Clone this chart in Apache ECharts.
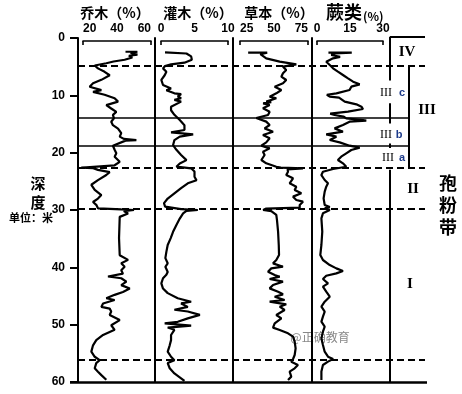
<!DOCTYPE html>
<html><head><meta charset="utf-8">
<script src="https://cdn.jsdelivr.net/npm/echarts@6/dist/echarts.min.js"></script>
<style>html,body{margin:0;padding:0;background:#fff}#c{width:462px;height:394px}</style>
</head><body><div id="c"></div>
<script>
// [depth (m), percent]
const tree = [[2.4,45],[2.4,52],[2.6,48],[2.9,52],[3.1,47],[3.4,49],[3.8,44.5],[4.1,38],[4.4,33.7],[4.8,26.9],
[5.3,28.8],[5.9,32.7],[6.5,35.7],[7.3,30.8],[7.9,25.9],[8.5,23.9],[9.1,30.8],[9.4,25.9],[9.9,32.7],[10.5,38.6],
[11.1,40.6],[11.7,33.7],[12.3,36.6],[12.9,39.6],[13.4,37.6],[14.0,38.2],[14.6,36.6],[15.2,37.6],[15.8,40.6],[16.6,42.5],
[17.2,41.6],[17.6,44],[17.8,51.4],[17.9,45],[18.2,44.5],[18.8,37.6],[19.5,38.6],[20.1,39.6],[20.7,38.6],[21.6,41.6],
[22.2,38.6],[22.55,22],[22.62,19],[22.7,26],[23.0,28.8],[23.4,35.7],[23.9,33.7],[24.8,28.8],[25.6,24.9],[26.5,26.9],
[27.4,30.8],[28.0,28.8],[28.6,25.9],[29.1,27.8],[29.7,28.8],[29.9,42.5],[30.0,50],[30.2,44],[30.6,46.5],[31.2,41.6],
[34.9,41.2],[37.9,41.6],[38.1,42.5],[38.7,46.5],[39.3,42.5],[39.9,44.5],[40.5,42.5],[41.1,43.5],[41.6,34.7],[41.9,42.5],
[42.5,45.5],[43.1,42.5],[43.7,47.5],[44.3,43.5],[44.8,38.6],[45.4,33.7],[45.7,38.6],[46.3,31.8],[46.9,30.8],[47.2,35.7],
[47.7,36.6],[48.3,35.7],[49.2,41.6],[50.1,36.6],[50.9,38.6],[51.8,31.8],[52.7,27.8],[53.6,25.9],[54.7,24.9],[55.6,26.9],
[56.2,29.8],[56.7,27.8],[57.6,26.9],[58.2,28.8],[58.8,30.8],[59.6,33.7]];
const shrub = [[2.5,0.6],[2.7,3.8],[3.2,4.5],[3.8,4.6],[4.3,3.5],[4.6,1.5],[4.9,0.6],[5.3,0.3],[5.9,0.8],[6.5,0.55],
[7.3,0.05],[8.2,0.3],[8.8,1.5],[9.1,0.8],[9.65,2.0],[9.8,3.0],[10.2,2.5],[10.5,3.0],[10.8,2.0],[11.1,3.0],
[11.4,2.8],[12.0,1.5],[12.6,1.5],[13.4,2.0],[14.3,2.8],[15.2,3.5],[16.05,3.5],[16.45,1.5],[16.8,4.8],[17.2,2.8],
[17.8,2.0],[18.7,1.8],[19.5,2.3],[20.4,3.0],[21.3,3.8],[21.9,2.8],[22.45,2.3],[22.73,4.5],[23.3,5.0],[24.2,5.0],
[24.8,5.3],[25.35,4.0],[26.2,3.0],[27.1,2.0],[28.0,1.0],[28.8,0.45],[29.4,0.6],[29.85,3.0],[30.0,5.5],[30.15,3.8],
[30.6,3.3],[31.5,2.8],[32.6,2.3],[33.8,1.8],[34.9,1.45],[36.1,1.0],[37.3,0.8],[38.4,0.65],[39.3,1.0],[39.9,0.65],
[40.8,1.0],[41.3,0.8],[41.9,0.3],[42.8,0.05],[43.7,0.3],[44.5,1.0],[45.4,2.5],[46.0,4.5],[46.3,3.0],[46.9,4.0],
[47.4,2.0],[47.7,4.0],[48.3,5.8],[48.9,4.0],[49.5,2.5],[49.77,0.55],[50.17,4.5],[50.5,1.0],[50.9,2.0],[51.8,1.5],
[52.7,1.5],[53.6,1.3],[54.7,1.0],[55.6,1.5],[56.2,2.0],[56.7,1.0],[57.6,1.3],[58.5,2.0],[59.35,3.0],[59.8,3.5]];
const herb = [[2.56,31],[2.56,45],[2.8,40],[3.0,39.5],[3.55,44.3],[4.13,54.2],[4.59,66.4],[5.0,56.6],[5.58,59.0],[6.16,56.6],
[6.74,55.4],[7.33,59.0],[7.91,56.6],[8.49,50.5],[9.07,55.4],[9.65,51.7],[10.23,46.8],[10.52,51.7],[11.1,44.3],[11.2,48],
[11.4,42],[11.68,46.8],[12.27,41.9],[12.85,46.8],[13.43,45.6],[13.95,37.0],[14.05,38],[14.59,44.3],[15.17,46.8],[15.76,43.1],
[16.34,49.3],[16.92,41.9],[17.5,46.8],[18.2,44.3],[18.78,40.7],[19.25,46.8],[19.83,41.9],[20.41,43.1],[21.28,40.7],[21.86,44.3],
[22.45,51.7],[22.6,55],[22.73,71.3],[22.9,60],[23.32,60.3],[23.9,59.0],[24.48,64.0],[25.35,61.5],[25.93,66.4],[26.51,65.2],
[27.09,70.1],[27.67,64.0],[28.26,66.4],[28.55,71.3],[29.13,68.9],[29.6,68.9],[29.75,44.3],[30.0,42],[30.2,48],[30.41,49.3],
[30.87,51.7],[31.75,52.2],[33.78,53.0],[36.1,53.5],[37.85,53.7],[38.72,51.7],[39.31,49.3],[39.89,56.6],[40.18,48.0],[40.76,45.6],
[41.34,50.5],[41.63,54.2],[42.04,46.8],[42.5,56.6],[43.08,49.3],[43.67,46.8],[44.25,53.0],[44.71,56.6],[45.12,50.5],[45.7,57.8],
[45.99,46.8],[46.45,59.0],[46.86,54.2],[47.44,57.8],[48.31,51.7],[48.89,55.4],[49.77,50.5],[50.52,49.3],[50.93,54.2],[51.51,60.3],
[52.09,64.0],[52.96,65.2],[54.13,65.9],[55.29,65.2],[55.99,64.0],[56.45,62.7],[57.03,67.6],[57.61,65.2],[58.19,61.5],[59.06,62.7],[59.64,60.3]];
const fern = [[2.56,5.2],[2.56,15.8],[2.7,8],[2.97,6.5],[3.3,10.5],[3.55,7.3],[4.13,4.2],[4.71,5.8],[5.29,7.3],[5.87,9.5],
[6.45,11.8],[7.04,14.1],[7.62,16.4],[8.08,19.4],[8.49,15.6],[9.07,14.8],[9.65,8.8],[9.9,4.5],[10.23,5.8],[10.4,10],
[10.63,10.3],[11.1,12.6],[11.57,17.9],[11.98,20.2],[12.39,20.9],[12.85,14.1],[13.2,6],[13.43,8.0],[13.7,12],[14.01,13.3],
[14.3,20.9],[14.4,22.4],[14.59,14.8],[15.17,11.8],[15.76,8.0],[16.34,11.8],[16.8,4.2],[17.21,8.8],[17.79,5.8],[18.2,10.3],
[18.78,14.8],[19.13,19.4],[19.54,15.6],[20.12,13.3],[20.7,11.0],[21.28,9.5],[21.86,11.8],[22.45,13.3],[22.85,7.3],[23.32,2.7],
[23.9,2.0],[24.77,3.5],[25.35,5.0],[25.93,4.2],[26.8,3.5],[27.97,3.0],[29.13,3.5],[29.5,5.8],[29.71,3.5],[30.0,5.8],
[30.58,2.7],[31.46,2.0],[33.78,2.4],[36.1,2.0],[37.85,1.5],[38.72,2.7],[39.6,5.8],[40.18,8.8],[40.64,11.8],[41.05,8.8],
[41.46,4.2],[42.04,2.7],[42.79,5.0],[43.37,2.7],[44.25,4.2],[45.12,5.8],[45.99,3.5],[46.86,2.0],[47.73,3.5],[48.6,2.7],
[49.48,2.0],[50.35,3.5],[51.22,2.7],[52.38,2.0],[53.55,2.7],[54.71,3.5],[55.58,5.0],[55.99,7.3],[56.45,5.0],[57.03,2.7],
[58.19,2.0],[59.64,2.0]];
// zone boundary depths (m): IV/IIIc, IIIc/IIIb, IIIb/IIIa, III/II, II/I, I lower subdivision
const zoneBounds = [4.8, 13.85, 18.8, 22.65, 29.7, 56.2];
const axisMin = [20, 0, 25, 0];
const axisMax = [60, 10, 75, 30];
const axisStep = [20, 5, 25, 15];
const seriesData = [tree, shrub, herb, fern];

const FONT = '"Liberation Sans","Noto Sans CJK SC",sans-serif';
const layout = [
  {left:83, width:68, yOff:5, edge:true},
  {left:161, width:67, yOff:6, edge:false},
  {left:240, width:68, yOff:7, edge:true},
  {left:317, width:66, yOff:5, edge:false}
];
const grids = layout.map(l => ({left:l.left, width:l.width, top:38, height:344, containLabel:false, outerBoundsMode:'none'}));
grids.push({left:0, width:462, top:38, height:344, containLabel:false, outerBoundsMode:'none'});

const xAxes = layout.map((l,i) => ({
  type:'value', gridIndex:i, position:'top', offset:-3,
  min:axisMin[i], max:axisMax[i], interval:axisStep[i],
  axisLine:{show:true, onZero:false, lineStyle:{color:'#000', width:1.6}},
  axisTick:{show:true, inside:true, length:4, customValues:[axisMin[i], axisMax[i]], lineStyle:{color:'#000', width:1.6}},
  axisLabel:{color:'#000', fontWeight:'bold', fontSize:12, fontFamily:FONT, margin:6,
    alignMinLabel: l.edge ? 'left' : 'center', alignMaxLabel: l.edge ? 'right' : 'center'},
  splitLine:{show:false}
}));
xAxes.push({type:'value', gridIndex:4, min:0, max:462, show:false});

const yAxes = layout.map((l,i) => ({
  type:'value', gridIndex:i, position:'left', offset:l.yOff, inverse:true,
  min:0, max:60, interval:10,
  axisLine:{show:true, onZero:false, lineStyle:{color:'#000', width:2}},
  axisTick:{show:i===0, length:8, lineStyle:{color:'#000', width:2}},
  axisLabel:{show:i===0, color:'#000', fontWeight:'bold', fontSize:12, fontFamily:FONT, margin:13},
  splitLine:{show:false}
}));
yAxes.push({type:'value', gridIndex:4, min:0, max:60, inverse:true, show:false});

const dashed = {color:'#000', width:2.2, type:[7,4], opacity:1};
const solid = {color:'#000', width:1.5, type:'solid', opacity:1};
const thick = {color:'#000', width:2, type:'solid', opacity:1};
const seg = (x1,d1,x2,d2,s) => ({coords:[[x1,d1],[x2,d2]], lineStyle:s});
const deco = [
  seg(78,zoneBounds[0],425,zoneBounds[0],dashed),
  seg(78,zoneBounds[1],409,zoneBounds[1],solid),
  seg(78,zoneBounds[2],409,zoneBounds[2],solid),
  seg(78,zoneBounds[3],425,zoneBounds[3],dashed),
  seg(78,zoneBounds[4],425,zoneBounds[4],dashed),
  seg(78,zoneBounds[5],425,zoneBounds[5],dashed),
  seg(70,60,427,60,{color:'#000', width:2.5, opacity:1}),
  seg(390,-0.2,425,-0.2,thick),
  seg(390,-0.2,390,7.4,thick),
  seg(390,11.4,390,14.9,thick),
  seg(390,18.4,390,19.2,thick),
  seg(390,23.0,390,60,thick),
  seg(409,zoneBounds[0],409,zoneBounds[3],thick)
];

const series = seriesData.map((d,i) => ({
  type:'line', xAxisIndex:i, yAxisIndex:i, data:d.map(p => [p[1], p[0]]),
  showSymbol:false, symbol:'none', clip:false, animation:false, silent:true,
  lineStyle:{color:'#000', width:2.2, opacity:1}
}));
series.push({type:'lines', coordinateSystem:'cartesian2d', xAxisIndex:4, yAxisIndex:4,
  clip:false, silent:true, animation:false, data:deco, lineStyle:{color:'#000', width:2, opacity:1}});

const txt = (text,x,y,font,align,fill) => ({type:'text', x, y, silent:true,
  style:{text, font, textAlign:align||'center', textVerticalAlign:'middle', verticalAlign:'middle', fill:fill||'#000'}});
const B14 = 'bold 14px "Noto Sans CJK SC",sans-serif';
const SERIF_B = (s) => 'bold ' + s + 'px "Liberation Serif","DejaVu Serif",serif';
const SERIF = (s) => s + 'px "Liberation Serif","DejaVu Serif",serif';
const SUB = 'bold 11px "Liberation Sans",sans-serif';
const subColor = '#1d3b8b';
const graphic = [
  txt('乔木（%）',115,13,B14),
  txt('灌木（%）',198,13,B14),
  txt('草本（%）',279,13,B14),
  txt('蕨类',344,12,'bold 18px "Noto Sans CJK SC",sans-serif'),
  txt('(%)',363,16,'bold 12px "Noto Sans CJK SC",sans-serif','left'),
  txt('深\n度',38,193,'bold 15px "Noto Sans CJK SC",sans-serif'),
  txt('单位：米',31,218,'bold 11px "Noto Sans CJK SC",sans-serif'),
  txt('IV',407,52,SERIF_B(15)),
  txt('III',427,110,SERIF_B(15)),
  txt('III',386,93,SERIF(12)),
  txt('c',402,93,SUB,'center',subColor),
  txt('III',386,135,SERIF(12)),
  txt('b',399,135,SUB,'center',subColor),
  txt('III',388,158,SERIF(12)),
  txt('a',402,158,SUB,'center',subColor),
  txt('II',413,189,SERIF_B(15)),
  txt('I',410,284,SERIF_B(15)),
  txt('孢\n粉\n带',448,205,'bold 18px "Noto Sans CJK SC",sans-serif'),
  txt('@正确教育',320,337,'12px "Noto Sans CJK SC",sans-serif','center','#888')
];
graphic.forEach(g => { if (g.style.text.indexOf('\n') >= 0) g.style.lineHeight = g.style.text.length > 3 ? 22 : 19; });

const chart = echarts.init(document.getElementById('c'), null, {renderer:'canvas'});
chart.setOption({animation:false, backgroundColor:'#fff', grid:grids, xAxis:xAxes, yAxis:yAxes, series, graphic});
</script></body></html>
